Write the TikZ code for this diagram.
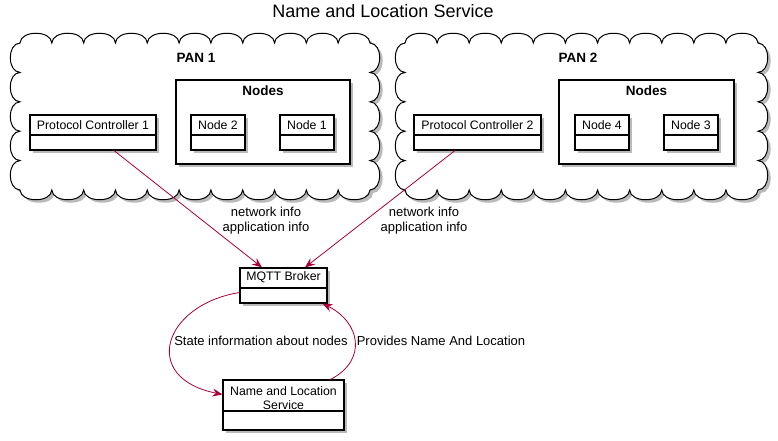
\documentclass[tikz,border=0pt]{standalone}
\usepackage{fontspec}
\setmainfont{Liberation Sans}
\usetikzlibrary{shadows,arrows.meta}
\definecolor{arr}{HTML}{A80036}
\tikzset{
  shad/.style={drop shadow={shadow xshift=3pt,shadow yshift=-3pt,fill=black!45,opacity=0.6}},
  cls/.style={draw,fill=white,line width=1.1pt,inner sep=0pt,shad},
  frame/.style={draw,fill=white,line width=1.1pt,inner sep=0pt,shad},
  ctext/.style={font=\fontsize{12.3}{13.3}\selectfont,inner sep=0pt,align=center},
  btext/.style={font=\fontsize{13.5}{15}\selectfont\bfseries,inner sep=0pt},
  ltext/.style={font=\fontsize{13}{15}\selectfont,inner sep=0pt,align=center},
  divline/.style={line width=1.1pt},
  conn/.style={draw=arr,line width=0.8pt,-{Stealth[length=10pt,width=8pt,inset=3.5pt]}},
  cloudln/.style={draw,fill=white,line width=1pt,shad},
}
\newcommand{\mycloud}[6]{%
  % #1 x0, #2 y0, #3 x1, #4 y1, #5 n horizontal, #6 m vertical
  \pgfmathsetmacro{\cw}{(#3-#1)/#5}%
  \pgfmathsetmacro{\chh}{(#4-#2)/#6}%
  \path[cloudln] (#1,#2)
    \foreach \i in {1,...,#5}{ .. controls ({#1+(\i-1)*\cw+0.02*\cw},{#2-13}) and ({#1+\i*\cw-0.02*\cw},{#2-13}) .. ({#1+\i*\cw},#2) }
    \foreach \i in {1,...,#6}{ .. controls ({#3+13},{#2+(\i-1)*\chh+0.02*\chh}) and ({#3+13},{#2+\i*\chh-0.02*\chh}) .. (#3,{#2+\i*\chh}) }
    \foreach \i in {1,...,#5}{ .. controls ({#3-(\i-1)*\cw-0.02*\cw},{#4+13}) and ({#3-\i*\cw+0.02*\cw},{#4+13}) .. ({#3-\i*\cw},#4) }
    \foreach \i in {1,...,#6}{ .. controls ({#1-13},{#4-(\i-1)*\chh-0.02*\chh}) and ({#1-13},{#4-\i*\chh+0.02*\chh}) .. (#1,{#4-\i*\chh}) }
    -- cycle;%
}
\begin{document}
\begin{tikzpicture}[x=1pt,y=-1pt]
\useasboundingbox[fill=white] (0,0) rectangle (778,441);

\node[font=\fontsize{18}{20}\selectfont,inner sep=0pt] (title) at (383,11) {Name and Location Service};

% clouds
\mycloud{20}{43}{370}{190}{11}{5}
\mycloud{405}{43}{758}{190}{11}{5}

\node[btext] (pan1) at (196,58) {PAN 1};
\node[btext] (pan2) at (578,58) {PAN 2};

% Nodes frames
\node[frame,minimum width=174pt,minimum height=84pt] (fr1) at (263,122) {};
\node[btext] (fr1t) at (263,91) {Nodes};
\node[frame,minimum width=175pt,minimum height=84pt] (fr2) at (646.5,122) {};
\node[btext] (fr2t) at (646.5,91) {Nodes};

% class boxes
\node[cls,minimum width=126pt,minimum height=35pt] (pc1) at (93,132.5) {};
\node[ctext] (pc1t) at (93,125) {Protocol Controller 1};
\draw[divline] (pc1.west |- 0,135) -- (pc1.east |- 0,135);

\node[cls,minimum width=54pt,minimum height=35pt] (n2) at (218,132.5) {};
\node[ctext] (n2t) at (218,125) {Node 2};
\draw[divline] (n2.west |- 0,135) -- (n2.east |- 0,135);

\node[cls,minimum width=54pt,minimum height=35pt] (n1) at (307,132.5) {};
\node[ctext] (n1t) at (307,125) {Node 1};
\draw[divline] (n1.west |- 0,135) -- (n1.east |- 0,135);

\node[cls,minimum width=127pt,minimum height=35pt] (pc2) at (477.5,132.5) {};
\node[ctext] (pc2t) at (477.5,125) {Protocol Controller 2};
\draw[divline] (pc2.west |- 0,135) -- (pc2.east |- 0,135);

\node[cls,minimum width=54pt,minimum height=35pt] (n4) at (602,132.5) {};
\node[ctext] (n4t) at (602,125) {Node 4};
\draw[divline] (n4.west |- 0,135) -- (n4.east |- 0,135);

\node[cls,minimum width=54pt,minimum height=35pt] (n3) at (691,132.5) {};
\node[ctext] (n3t) at (691,125) {Node 3};
\draw[divline] (n3.west |- 0,135) -- (n3.east |- 0,135);

\node[cls,minimum width=87pt,minimum height=35pt] (mq) at (283.5,285.5) {};
\node[ctext] (mqt) at (283.5,277.5) {MQTT Broker};
\draw[divline] (mq.west |- 0,288) -- (mq.east |- 0,288);

\node[cls,minimum width=121pt,minimum height=50pt] (nls) at (283.5,405) {};
\node[ctext] (nlst) at (283.5,398) {Name and Location\\Service};
\draw[divline] (nls.west |- 0,411) -- (nls.east |- 0,411);

% connectors
\draw[conn] ([xshift=21pt]pc1.south) -- ([xshift=-21.5pt]mq.north);
\draw[conn] ([xshift=-22.5pt]pc2.south) -- ([xshift=21.5pt]mq.north);
\node[ltext] (l1) at (266,221) {network info\\application info};
\node[ltext] (l2) at (424,221) {network info\\application info};

\draw[conn] ([yshift=-7pt]mq.west) .. controls (163,305) and (140,378) .. ([yshift=-15pt]nls.north west);
\draw[conn] ([xshift=47pt]nls.north) .. controls (368,360) and (360,322) .. ([xshift=-5pt]mq.south east);
\node[ltext] (l3) at (261,341) {State information about nodes};
\node[ltext] (l4) at (441,341) {Provides Name And Location};
\end{tikzpicture}
\end{document}
